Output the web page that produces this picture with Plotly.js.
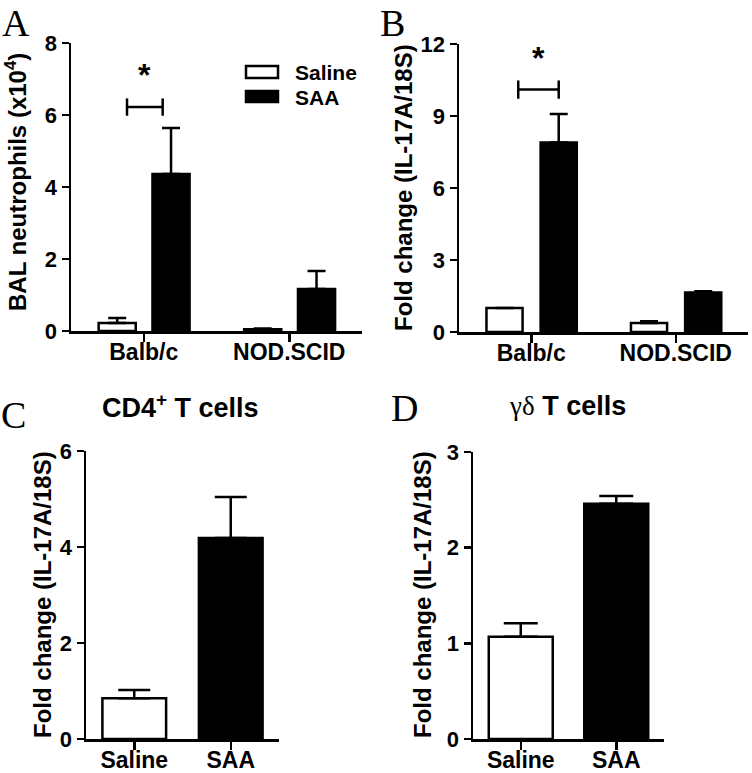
<!DOCTYPE html>
<html><head><meta charset="utf-8">
<script src="https://cdn.plot.ly/plotly-3.0.1.min.js"></script>
<style>body{margin:0;padding:0;background:#fff}#chart{width:752px;height:773px}</style>
</head><body><div id="chart"></div>
<script>
// ---- data ----
const strains = ["Balb/c", "NOD.SCID"];
const cellGroups = ["Saline", "SAA"];
// Panel A: BAL neutrophils (x10^4)
const aSaline = [0.22, 0.05];
const aSalineErr = [0.14, 0.02];
const aSAA = [4.36, 1.17];
const aSAAErr = [1.28, 0.50];
// Panel B: Fold change (IL-17A/18S)
const bSaline = [1.0, 0.37];
const bSalineErr = [0.0, 0.08];
const bSAA = [7.9, 1.65];
const bSAAErr = [1.18, 0.05];
// Panel C: CD4+ T cells
const cValues = [0.85, 4.19];
const cErr = [0.17, 0.85];
// Panel D: gamma-delta T cells
const dValues = [1.07, 2.46];
const dErr = [0.14, 0.08];
// significance marks (y positions in data units)
const aSig = 6.22, bSig = 10.1;

const FONT = "Liberation Sans, Arial, sans-serif";
const SERIF = "Liberation Serif, Times New Roman, serif";
const LW = 2.5;

function errY(arr, w) {
  return {type: "data", symmetric: false, array: arr, arrayminus: arr.map(() => 0),
          color: "#000", thickness: LW, width: w};
}
function barTrace(x, y, err, fill, xa, ya, offset, width, capw) {
  return {type: "bar", x: x, y: y, xaxis: xa, yaxis: ya, offset: offset, width: width,
          marker: {color: fill, line: {color: "#000", width: LW}},
          error_y: errY(err, capw), showlegend: false, hoverinfo: "skip"};
}
const traces = [
  barTrace(strains, aSaline, aSalineErr, "#fff", "x", "y", -0.31, 0.255, 9),
  barTrace(strains, aSAA, aSAAErr, "#000", "x", "y", 0.06, 0.255, 9),
  barTrace(strains, bSaline, bSalineErr, "#fff", "x2", "y2", -0.31, 0.25, 9),
  barTrace(strains, bSAA, bSAAErr, "#000", "x2", "y2", 0.065, 0.25, 9),
  {type: "bar", x: cellGroups, y: cValues, xaxis: "x3", yaxis: "y3", width: 0.66,
   marker: {color: ["#fff", "#000"], line: {color: "#000", width: LW}},
   error_y: errY(cErr, 16), showlegend: false, hoverinfo: "skip"},
  {type: "bar", x: cellGroups, y: dValues, xaxis: "x4", yaxis: "y4", width: 0.67,
   marker: {color: ["#fff", "#000"], line: {color: "#000", width: LW}},
   error_y: errY(dErr, 17), showlegend: false, hoverinfo: "skip"}
];

function xax(dom, anchor) {
  return {domain: dom, anchor: anchor, type: "category", range: [-0.5, 1.5],
          showline: true, linecolor: "#000", linewidth: LW, ticks: "outside",
          ticklen: 8, tickwidth: LW, tickcolor: "#000", showgrid: false, zeroline: false,
          ticklabelstandoff: -9,
          tickfont: {family: FONT, size: 23, color: "#000", weight: "bold"}, fixedrange: true};
}
function yax(dom, anchor, max, dtick) {
  return {domain: dom, anchor: anchor, range: [0, max], dtick: dtick, tick0: 0,
          showline: true, linecolor: "#000", linewidth: LW, ticks: "outside",
          ticklen: 7, tickwidth: LW, tickcolor: "#000", showgrid: false, zeroline: false,
          tickfont: {family: FONT, size: 22, color: "#000", weight: "bold"}, fixedrange: true};
}
const W = 752, H = 773;
const px = v => v / W, py = v => 1 - v / H;

const layout = {
  width: W, height: H, margin: {l: 0, r: 0, t: 0, b: 0},
  paper_bgcolor: "#fff", plot_bgcolor: "#fff", barmode: "overlay",
  showlegend: false,
  xaxis: xax([px(71), px(362)], "y"),
  yaxis: yax([py(331), py(43)], "x", 8, 2),
  xaxis2: xax([px(459), px(748)], "y2"),
  yaxis2: yax([py(332), py(44)], "x2", 12, 3),
  xaxis3: xax([px(86), px(279)], "y3"),
  yaxis3: yax([py(739), py(451)], "x3", 6, 2),
  xaxis4: xax([px(473), px(664)], "y4"),
  yaxis4: yax([py(739), py(452)], "x4", 3, 1),
  shapes: [
    // significance brackets A
    {type: "line", xref: "x", yref: "y", x0: -0.115, x1: 0.13, y0: aSig, y1: aSig, line: {color: "#000", width: LW}},
    {type: "line", xref: "x", yref: "y", x0: -0.115, x1: -0.115, y0: aSig - 0.24, y1: aSig + 0.24, line: {color: "#000", width: LW}},
    {type: "line", xref: "x", yref: "y", x0: 0.13, x1: 0.13, y0: aSig - 0.24, y1: aSig + 0.24, line: {color: "#000", width: LW}},
    // significance brackets B
    {type: "line", xref: "x2", yref: "y2", x0: -0.09, x1: 0.19, y0: bSig, y1: bSig, line: {color: "#000", width: LW}},
    {type: "line", xref: "x2", yref: "y2", x0: -0.09, x1: -0.09, y0: bSig - 0.38, y1: bSig + 0.38, line: {color: "#000", width: LW}},
    {type: "line", xref: "x2", yref: "y2", x0: 0.19, x1: 0.19, y0: bSig - 0.38, y1: bSig + 0.38, line: {color: "#000", width: LW}},
    // legend swatches
    {type: "rect", xref: "paper", yref: "paper", x0: px(246), x1: px(278), y0: py(78), y1: py(66), line: {color: "#000", width: LW}, fillcolor: "#fff"},
    {type: "rect", xref: "paper", yref: "paper", x0: px(246), x1: px(278), y0: py(102), y1: py(91), line: {color: "#000", width: LW}, fillcolor: "#000"}
  ],
  annotations: [
    // panel letters
    {text: "A", x: px(0), y: py(0), xref: "paper", yref: "paper", xanchor: "left", yanchor: "top", showarrow: false, font: {family: SERIF, size: 38, color: "#000"}},
    {text: "B", x: px(378), y: py(0), xref: "paper", yref: "paper", xanchor: "left", yanchor: "top", showarrow: false, font: {family: SERIF, size: 38, color: "#000"}},
    {text: "C", x: px(-1), y: py(392), xref: "paper", yref: "paper", xanchor: "left", yanchor: "top", showarrow: false, font: {family: SERIF, size: 38, color: "#000"}},
    {text: "D", x: px(389), y: py(385), xref: "paper", yref: "paper", xanchor: "left", yanchor: "top", showarrow: false, font: {family: SERIF, size: 38, color: "#000"}},
    // panel titles
    {text: "CD4<sup>+</sup> T cells", x: px(180), y: py(406), xref: "paper", yref: "paper", xanchor: "center", yanchor: "middle", showarrow: false, font: {family: FONT, size: 27, color: "#000", weight: "bold"}},
    {text: "<span style='font-family:Liberation Serif;font-weight:normal'>γδ</span> T cells", x: px(567), y: py(406), xref: "paper", yref: "paper", xanchor: "center", yanchor: "middle", showarrow: false, font: {family: FONT, size: 27, color: "#000", weight: "bold"}},
    // y-axis titles
    {text: "BAL neutrophils (x10<sup>4</sup>)", x: px(16), y: py(182), xref: "paper", yref: "paper", textangle: -90, xanchor: "center", yanchor: "middle", showarrow: false, font: {family: FONT, size: 24, color: "#000", weight: "bold"}},
    {text: "Fold change (IL-17A/18S)", x: px(403), y: py(188), xref: "paper", yref: "paper", textangle: -90, xanchor: "center", yanchor: "middle", showarrow: false, font: {family: FONT, size: 24, color: "#000", weight: "bold"}},
    {text: "Fold change (IL-17A/18S)", x: px(42), y: py(595), xref: "paper", yref: "paper", textangle: -90, xanchor: "center", yanchor: "middle", showarrow: false, font: {family: FONT, size: 24, color: "#000", weight: "bold"}},
    {text: "Fold change (IL-17A/18S)", x: px(422), y: py(595), xref: "paper", yref: "paper", textangle: -90, xanchor: "center", yanchor: "middle", showarrow: false, font: {family: FONT, size: 24, color: "#000", weight: "bold"}},
    // significance stars
    {text: "*", x: 0.005, y: 7.1, xref: "x", yref: "y", showarrow: false, xanchor: "center", yanchor: "middle", font: {family: FONT, size: 32, color: "#000", weight: "bold"}},
    {text: "*", x: 0.05, y: 11.4, xref: "x2", yref: "y2", showarrow: false, xanchor: "center", yanchor: "middle", font: {family: FONT, size: 32, color: "#000", weight: "bold"}},
    // legend labels
    {text: "Saline", x: px(293), y: py(72), xref: "paper", yref: "paper", xanchor: "left", yanchor: "middle", showarrow: false, font: {family: FONT, size: 21, color: "#000", weight: "bold"}},
    {text: "SAA", x: px(293), y: py(97), xref: "paper", yref: "paper", xanchor: "left", yanchor: "middle", showarrow: false, font: {family: FONT, size: 21, color: "#000", weight: "bold"}}
  ]
};
Plotly.newPlot("chart", traces, layout, {staticPlot: true, displayModeBar: false});
</script></body></html>
